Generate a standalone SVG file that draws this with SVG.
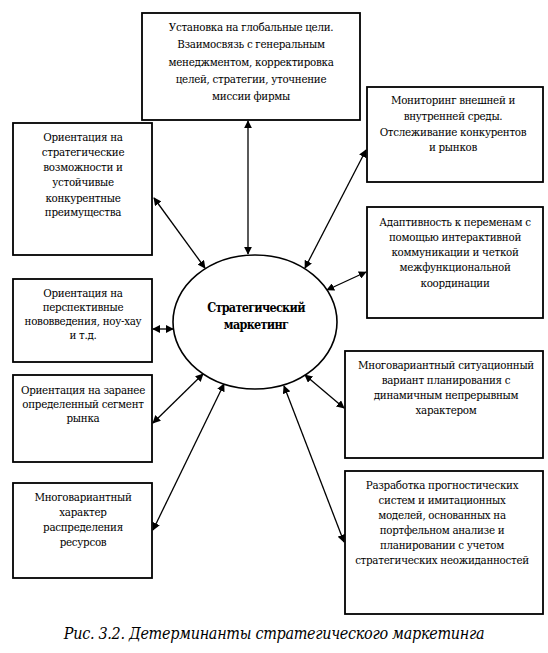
<svg xmlns="http://www.w3.org/2000/svg" width="548" height="653" viewBox="0 0 548 653">
<defs>
<style>
.box{fill:#fff;stroke:#000;stroke-width:1.8}
text{font-family:"DejaVu Serif Condensed","DejaVu Serif","Liberation Serif",serif;font-stretch:condensed;fill:#000;text-anchor:middle;letter-spacing:-0.3px}
.t{font-size:11.5px}
.b{font-size:12.5px;font-weight:bold;letter-spacing:-0.7px}
.cap{font-size:16px;font-style:italic}
.c{stroke:#000;stroke-width:1.3;fill:none;marker-start:url(#a);marker-end:url(#a)}
</style>
<marker id="a" viewBox="0 0 10 10" refX="9" refY="5" markerWidth="8" markerHeight="8" markerUnits="userSpaceOnUse" orient="auto-start-reverse">
<path d="M0,0 L10,5 L0,10 z" fill="#000"/>
</marker>
</defs>
<rect width="548" height="653" fill="#fff"/>
<g id="connectors">
<line class="c" x1="248" y1="121" x2="248" y2="254"/>
<line class="c" x1="154" y1="198" x2="205" y2="268"/>
<line class="c" x1="366" y1="150" x2="305" y2="268"/>
<line class="c" x1="366" y1="272" x2="327" y2="290"/>
<line class="c" x1="153" y1="329" x2="173" y2="329"/>
<line class="c" x1="153" y1="423" x2="203" y2="374"/>
<line class="c" x1="153" y1="530" x2="224" y2="384"/>
<line class="c" x1="344" y1="408" x2="305" y2="375"/>
<line class="c" x1="344" y1="542" x2="284" y2="386"/>
</g>
<g id="center">
<ellipse cx="255" cy="322" rx="82" ry="67" fill="#fff" stroke="#000" stroke-width="1.6"/>
<text class="b" x="256" y="312">Стратегический</text>
<text class="b" x="256" y="329">маркетинг</text>
</g>
<g id="top">
<rect class="box" x="142" y="13" width="218" height="107"/>
<text class="t" x="251" y="31">Установка на глобальные цели.</text>
<text class="t" x="251" y="48">Взаимосвязь с генеральным</text>
<text class="t" x="251" y="66">менеджментом, корректировка</text>
<text class="t" x="251" y="83">целей, стратегии, уточнение</text>
<text class="t" x="251" y="100">миссии фирмы</text>
</g>
<g id="left1">
<rect class="box" x="13" y="123" width="139" height="132"/>
<text class="t" x="83" y="141">Ориентация на</text>
<text class="t" x="83" y="156">стратегические</text>
<text class="t" x="83" y="171">возможности и</text>
<text class="t" x="83" y="186">устойчивые</text>
<text class="t" x="83" y="202">конкурентные</text>
<text class="t" x="83" y="216">преимущества</text>
</g>
<g id="left2">
<rect class="box" x="13" y="279" width="139" height="83"/>
<text class="t" x="83" y="297">Ориентация на</text>
<text class="t" x="83" y="311">перспективные</text>
<text class="t" x="83" y="325">нововведения, ноу-хау</text>
<text class="t" x="83" y="339">и т.д.</text>
</g>
<g id="left3">
<rect class="box" x="13" y="375" width="139" height="87"/>
<text class="t" x="83" y="394">Ориентация на заранее</text>
<text class="t" x="83" y="408">определенный сегмент</text>
<text class="t" x="83" y="422">рынка</text>
</g>
<g id="left4">
<rect class="box" x="13" y="483" width="139" height="95"/>
<text class="t" x="83" y="501">Многовариантный</text>
<text class="t" x="83" y="516">характер</text>
<text class="t" x="83" y="531">распределения</text>
<text class="t" x="83" y="546">ресурсов</text>
</g>
<g id="right1">
<rect class="box" x="367" y="87" width="176" height="95"/>
<text class="t" x="453" y="104">Мониторинг внешней и</text>
<text class="t" x="453" y="120">внутренней среды.</text>
<text class="t" x="453" y="136">Отслеживание конкурентов</text>
<text class="t" x="453" y="151">и рынков</text>
</g>
<g id="right2">
<rect class="box" x="367" y="207" width="176" height="111"/>
<text class="t" x="455" y="226">Адаптивность к переменам с</text>
<text class="t" x="455" y="241">помощью интерактивной</text>
<text class="t" x="455" y="256">коммуникации и четкой</text>
<text class="t" x="455" y="271">межфункциональной</text>
<text class="t" x="455" y="287">координации</text>
</g>
<g id="right3">
<rect class="box" x="345" y="351" width="198" height="107"/>
<text class="t" x="446" y="369">Многовариантный ситуационный</text>
<text class="t" x="446" y="384">вариант планирования с</text>
<text class="t" x="446" y="399">динамичным непрерывным</text>
<text class="t" x="446" y="414">характером</text>
</g>
<g id="right4">
<rect class="box" x="345" y="471" width="198" height="143"/>
<text class="t" x="442" y="489">Разработка прогностических</text>
<text class="t" x="442" y="504">систем и имитационных</text>
<text class="t" x="442" y="519">моделей, основанных на</text>
<text class="t" x="442" y="534">портфельном анализе и</text>
<text class="t" x="442" y="549">планировании с учетом</text>
<text class="t" x="442" y="564">стратегических неожиданностей</text>
</g>
<text class="cap" x="274" y="639">Рис. 3.2. Детерминанты стратегического маркетинга</text>
</svg>
